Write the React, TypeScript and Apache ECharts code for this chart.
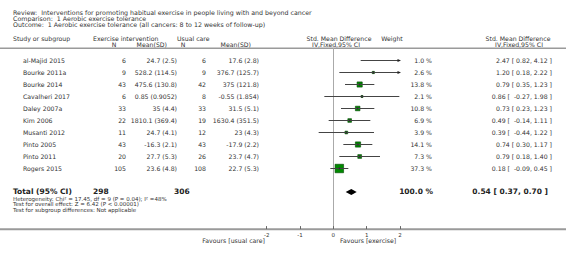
import React, { useEffect, useRef } from 'react';
import * as echarts from 'echarts';

const studies = ['al-Majid 2015', 'Bourke 2011a', 'Bourke 2014', 'Cavalheri 2017', 'Daley 2007a', 'Kim 2006', 'Musanti 2012', 'Pinto 2005', 'Pinto 2011', 'Rogers 2015'];
const expN = [6, 9, 43, 6, 33, 22, 11, 43, 20, 105];
const expMeanSD = ['24.7 (2.5)', '528.2 (114.5)', '475.6 (130.8)', '0.85 (0.9052)', '35 (4.4)', '1810.1 (369.4)', '24.7 (4.1)', '-16.3 (2.1)', '27.7 (5.3)', '23.6 (4.8)'];
const ctrlN = [6, 9, 42, 8, 33, 19, 12, 43, 26, 108];
const ctrlMeanSD = ['17.6 (2.8)', '376.7 (125.7)', '375 (121.8)', '-0.55 (1.854)', '31.5 (5.1)', '1630.4 (351.5)', '23 (4.3)', '-17.9 (2.2)', '23.7 (4.7)', '22.7 (5.3)'];
const weights = [1.0, 2.6, 13.8, 2.1, 10.8, 6.9, 3.9, 14.1, 7.3, 37.3];
const smd = [2.47, 1.2, 0.79, 0.86, 0.73, 0.49, 0.39, 0.74, 0.79, 0.18];
const ciLow = [0.82, 0.18, 0.35, -0.27, 0.23, -0.14, -0.44, 0.3, 0.18, -0.09];
const ciHigh = [4.12, 2.22, 1.23, 1.98, 1.23, 1.11, 1.22, 1.17, 1.4, 0.45];
const totalN = [298, 306];
const totalWeight = 100.0;
const totalEffect = [0.54, 0.37, 0.7];
const xRange = [-2, 2];

const titleLines = [
  'Review:  Interventions for promoting habitual exercise in people living with and beyond cancer',
  'Comparison:  1 Aerobic exercise tolerance',
  'Outcome:  1 Aerobic exercise tolerance (all cancers: 8 to 12 weeks of follow-up)',
];
const footLines = [
  'Heterogeneity: Chi\u00b2 = 17.45, df = 9 (P = 0.04); I\u00b2 =48%',
  'Test for overall effect: Z = 6.42 (P < 0.00001)',
  'Test for subgroup differences: Not applicable',
];

const FF = '"DejaVu Sans", Verdana, sans-serif';
const TXT = '#333';
const f = (s: number, bold = false) => `${bold ? 'bold ' : ''}${s}px ${FF}`;
const fmt = (v: number) => (v < 0 ? ' ' : '') + v.toFixed(2);

function txt(text: string, x: number, y: number, align: string, font: string, fill = TXT) {
  return {
    type: 'text',
    x,
    y,
    silent: true,
    style: { text, font, fill, align, verticalAlign: 'middle', textAlign: align, textVerticalAlign: 'middle' },
  };
}

const rows = studies.map((_, i) => i);
const totalRow = 10.95;

export default function App() {
  const ref = useRef<HTMLDivElement>(null);
  useEffect(() => {
    const chart = echarts.init(ref.current!, null, { renderer: 'svg' });
    const graphics: any[] = [];
    titleLines.forEach((t, i) => graphics.push(txt(t, 13, 12 + i * 6.1, 'left', f(6.3))));
    graphics.push(txt('Study or subgroup', 13, 38, 'left', f(6.2)));
    graphics.push(txt('Exercise intervention', 93, 38, 'left', f(6.2)));
    graphics.push(txt('N', 114, 44, 'center', f(6.2)));
    graphics.push(txt('Mean(SD)', 167, 44, 'right', f(6.2)));
    graphics.push(txt('Usual care', 177, 38, 'left', f(6.2)));
    graphics.push(txt('N', 183, 44, 'center', f(6.2)));
    graphics.push(txt('Mean(SD)', 251, 44, 'right', f(6.2)));
    graphics.push(txt('Std. Mean Difference', 339, 38, 'center', f(6.2)));
    graphics.push(txt('IV,Fixed,95% CI', 336, 44, 'center', f(6.2)));
    graphics.push(txt('Weight', 392, 38, 'center', f(6.2)));
    graphics.push(txt('Std. Mean Difference', 518, 38, 'center', f(6.2)));
    graphics.push(txt('IV,Fixed,95% CI', 519, 44, 'center', f(6.2)));
    footLines.forEach((t, i) => graphics.push(txt(t, 13, 198.6 + i * 5.7, 'left', f(5.5))));
    graphics.push(txt('Favours [usual care]', 265, 240.5, 'right', f(6.2)));
    graphics.push(txt('Favours [exercise]', 340, 240.5, 'left', f(6.2)));
    graphics.push({ type: 'line', silent: true, shape: { x1: 0, y1: 48.3, x2: 566, y2: 48.3 }, style: { stroke: '#9a9a9a', lineWidth: 1.5 } });
    graphics.push({ type: 'line', silent: true, shape: { x1: 0, y1: 229.3, x2: 566, y2: 229.3 }, style: { stroke: '#9a9a9a', lineWidth: 2 } });

    const option: any = {
      animation: false,
      backgroundColor: '#fff',
      grid: { left: 266.667, width: 133.333, top: 48.5, height: 180.6, containLabel: false },
      xAxis: {
        type: 'value', min: xRange[0], max: xRange[1], interval: 1,
        axisLine: { show: false, onZero: false },
        axisTick: { show: true, inside: true, length: 3, lineStyle: { color: '#666' } },
        axisLabel: { fontSize: 5.5, color: TXT, margin: 2.5, fontFamily: FF },
        splitLine: { show: false },
      },
      yAxis: {
        type: 'value', inverse: true, min: -1, max: 14.05,
        axisLine: { show: true, onZero: true, lineStyle: { color: '#aaa', width: 1 } },
        axisTick: { show: false }, axisLabel: { show: false }, splitLine: { show: false },
      },
      graphic: { elements: graphics },
      series: [
        {
          type: 'custom', clip: false, silent: true,
          data: rows.map((r) => [0, r]),
          renderItem: (params: any, api: any) => {
            const i = params.dataIndex;
            const y = api.coord([0, api.value(1)])[1];
            return {
              type: 'group',
              children: [
                txt(studies[i], 23, y, 'left', f(6.2)),
                txt(String(expN[i]), 126, y, 'right', f(6.2)),
                txt(expMeanSD[i], 177, y, 'right', f(6.2)),
                txt(String(ctrlN[i]), 206, y, 'right', f(6.2)),
                txt(ctrlMeanSD[i], 259, y, 'right', f(6.2)),
                txt(`${weights[i].toFixed(1)} %`, 432, y, 'right', f(6.2)),
                txt(`${smd[i].toFixed(2)} [ ${fmt(ciLow[i])}, ${ciHigh[i].toFixed(2)} ]`, 552, y, 'right', f(6.2)),
              ],
            };
          },
        },
        {
          type: 'custom', clip: false, silent: true,
          data: rows.map((r, i) => [smd[i], ciLow[i], ciHigh[i], weights[i], r]),
          renderItem: (params: any, api: any) => {
            const est = api.value(0), lo = api.value(1), hi = api.value(2), w = api.value(3), row = api.value(4);
            const [xl, y] = api.coord([Math.max(lo, xRange[0]), row]);
            const [xh] = api.coord([Math.min(hi, xRange[1]), row]);
            const [xe] = api.coord([est, row]);
            const children: any[] = [];
            const inside = est >= xRange[0] && est <= xRange[1];
            if (inside) {
              const s = Math.max(1.2, 8.5 * Math.sqrt(w / 37.3));
              children.push({ type: 'rect', shape: { x: xe - s / 2, y: y - s / 2, width: s, height: s }, style: { fill: '#008a00', stroke: '#004400', lineWidth: 0.6 } });
            }
            children.push({ type: 'line', shape: { x1: xl, y1: y, x2: xh, y2: y }, style: { stroke: '#444', lineWidth: 1 } });
            if (hi > xRange[1]) {
              children.push({ type: 'polygon', shape: { points: [[xh + 1, y], [xh - 2.5, y - 1.6], [xh - 2.5, y + 1.6]] }, style: { fill: '#222' } });
            }
            if (lo < xRange[0]) {
              children.push({ type: 'polygon', shape: { points: [[xl - 1, y], [xl + 2.5, y - 1.6], [xl + 2.5, y + 1.6]] }, style: { fill: '#222' } });
            }
            if (inside) {
              children.push({ type: 'line', shape: { x1: xe, y1: y - 1.5, x2: xe, y2: y + 1.5 }, style: { stroke: '#333', lineWidth: 1 } });
            }
            return { type: 'group', children };
          },
        },
        {
          type: 'custom', clip: false, silent: true,
          data: [[totalEffect[0], totalEffect[1], totalEffect[2], totalRow]],
          renderItem: (params: any, api: any) => {
            const row = api.value(3);
            const [xe, y] = api.coord([api.value(0), row]);
            const [xl] = api.coord([api.value(1), row]);
            const [xh] = api.coord([api.value(2), row]);
            return {
              type: 'group',
              children: [
                { type: 'polygon', shape: { points: [[xl, y], [xe, y - 3], [xh, y], [xe, y + 3]] }, style: { fill: '#000' } },
                txt('Total (95% CI)', 13, y - 0.5, 'left', f(7.5, true), '#222'),
                txt(String(totalN[0]), 93, y - 0.5, 'left', f(7.5, true), '#222'),
                txt(String(totalN[1]), 174, y - 0.5, 'left', f(7.5, true), '#222'),
                txt(`${totalWeight.toFixed(1)} %`, 433, y - 0.5, 'right', f(7.5, true), '#222'),
                txt(`${totalEffect[0].toFixed(2)} [ ${totalEffect[1].toFixed(2)}, ${totalEffect[2].toFixed(2)} ]`, 548, y - 0.5, 'right', f(7.5, true), '#222'),
              ],
            };
          },
        },
      ],
    };
    chart.setOption(option);
    return () => chart.dispose();
  }, []);
  return <div ref={ref} style={{ position: 'absolute', left: 0, top: 0, width: 566, height: 253, background: '#fff' }} />;
}
